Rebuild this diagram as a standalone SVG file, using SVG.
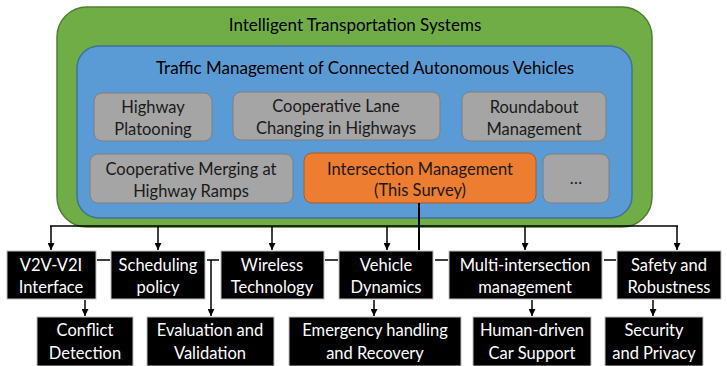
<svg xmlns="http://www.w3.org/2000/svg" width="727" height="366" viewBox="0 0 727 366">
  <defs>
    <marker id="arr" viewBox="0 0 10 10" refX="10" refY="5" markerWidth="7" markerHeight="7" markerUnits="userSpaceOnUse" orient="auto">
      <path d="M0,0 L10,5 L0,10 z" fill="#000"/>
    </marker>
  </defs>
  <style>
    text { font-family: Lato, "Open Sans", "Liberation Sans", sans-serif; text-anchor: middle; dominant-baseline: central; }
    .hdr { font-size: 17px; fill: #000; }
    .lbl { font-size: 16.5px; fill: #1a1a1a; }
    .wt { font-size: 16.5px; fill: #fff; }
    .gray { fill: #a5a5a5; stroke: #7f7f7f; stroke-width: 1; }
    .blk { fill: #000; stroke: #bfbfbf; stroke-width: 1; }
    .ln { fill: none; stroke: #000; stroke-width: 2; }
    .ar { fill: none; stroke: #000; stroke-width: 1.5; marker-end: url(#arr); }
  </style>

  <!-- outer domain -->
  <g id="its">
    <rect x="57" y="7" width="595" height="220" rx="30" fill="#70ad47" stroke="#507e32" stroke-width="1.5"/>
    <text class="hdr" x="355" y="24">Intelligent Transportation Systems</text>
  </g>
  <g id="cav">
    <rect x="77" y="46" width="555" height="172" rx="22" fill="#5b9bd5" stroke="#41719c" stroke-width="1.5"/>
    <text class="hdr" x="365" y="67">Traffic Management of Connected Autonomous Vehicles</text>
  </g>

  <g id="platooning">
    <rect class="gray" x="94" y="93" width="118" height="48" rx="8"/>
    <text class="lbl" x="153" y="107">Highway</text>
    <text class="lbl" x="153" y="129">Platooning</text>
  </g>
  <g id="lanechange">
    <rect class="gray" x="233" y="92" width="207" height="48" rx="8"/>
    <text class="lbl" x="336" y="106">Cooperative Lane</text>
    <text class="lbl" x="336" y="128">Changing in Highways</text>
  </g>
  <g id="roundabout">
    <rect class="gray" x="462" y="92" width="144" height="49" rx="8"/>
    <text class="lbl" x="534" y="107">Roundabout</text>
    <text class="lbl" x="534" y="129">Management</text>
  </g>
  <g id="merging">
    <rect class="gray" x="90" y="154" width="203" height="49" rx="8"/>
    <text class="lbl" x="191" y="169">Cooperative Merging at</text>
    <text class="lbl" x="191" y="191">Highway Ramps</text>
  </g>
  <g id="intersection">
    <rect x="304" y="153" width="232" height="50" rx="8" fill="#ed7d31" stroke="#ae5a21" stroke-width="1"/>
    <text class="lbl" x="420" y="169">Intersection Management</text>
    <text class="lbl" x="420" y="190">(This Survey)</text>
  </g>
  <g id="more">
    <rect class="gray" x="543" y="154" width="66" height="49" rx="8"/>
    <text class="lbl" x="576" y="178">…</text>
  </g>

  <!-- connectors -->
  <g id="connectors">
    <path class="ln" d="M419,203 V250"/>
    <path class="ln" d="M50,226 H678" style="stroke-width:1.5"/>
    <path class="ar" d="M51,226 V250"/>
    <path class="ar" d="M158,226 V250"/>
    <path class="ar" d="M272,226 V250"/>
    <path class="ar" d="M387,226 V250"/>
    <path class="ar" d="M525,226 V250"/>
    <path class="ar" d="M677,226 V250"/>
    <path class="ln" d="M97,260 H110 M207,260 H219 M325,260 H338 M435,260 H448 M604,260 H616" style="stroke-width:1.5"/>
    <path class="ar" d="M211,260 V316"/>
    <path class="ar" d="M85,300 V316"/>
    <path class="ar" d="M374,300 V316"/>
    <path class="ar" d="M532,300 V316"/>
    <path class="ar" d="M653,300 V316"/>
  </g>

  <!-- topic boxes -->
  <g id="v2v">
    <rect class="blk" x="7" y="251" width="89" height="48"/>
    <text class="wt" x="51" y="265">V2V-V2I</text>
    <text class="wt" x="51" y="287">Interface</text>
  </g>
  <g id="scheduling">
    <rect class="blk" x="111" y="251" width="94" height="48"/>
    <text class="wt" x="158" y="265">Scheduling</text>
    <text class="wt" x="158" y="287">policy</text>
  </g>
  <g id="wireless">
    <rect class="blk" x="221" y="251" width="103" height="48"/>
    <text class="wt" x="272" y="265">Wireless</text>
    <text class="wt" x="272" y="287">Technology</text>
  </g>
  <g id="dynamics">
    <rect class="blk" x="339" y="251" width="94" height="48"/>
    <text class="wt" x="386" y="265">Vehicle</text>
    <text class="wt" x="386" y="287">Dynamics</text>
  </g>
  <g id="multi">
    <rect class="blk" x="449" y="251" width="153" height="48"/>
    <text class="wt" x="525" y="265">Multi-intersection</text>
    <text class="wt" x="525" y="287">management</text>
  </g>
  <g id="safety">
    <rect class="blk" x="617" y="251" width="104" height="48"/>
    <text class="wt" x="669" y="265">Safety and</text>
    <text class="wt" x="669" y="287">Robustness</text>
  </g>

  <g id="conflict">
    <rect class="blk" x="37" y="317" width="96" height="49"/>
    <text class="wt" x="85" y="330">Conflict</text>
    <text class="wt" x="85" y="353">Detection</text>
  </g>
  <g id="evaluation">
    <rect class="blk" x="147" y="317" width="127" height="49"/>
    <text class="wt" x="210" y="330">Evaluation and</text>
    <text class="wt" x="210" y="353">Validation</text>
  </g>
  <g id="emergency">
    <rect class="blk" x="289" y="317" width="172" height="49"/>
    <text class="wt" x="375" y="330">Emergency handling</text>
    <text class="wt" x="375" y="353">and Recovery</text>
  </g>
  <g id="human">
    <rect class="blk" x="473" y="317" width="118" height="49"/>
    <text class="wt" x="532" y="330">Human-driven</text>
    <text class="wt" x="532" y="353">Car Support</text>
  </g>
  <g id="security">
    <rect class="blk" x="605" y="317" width="98" height="49"/>
    <text class="wt" x="654" y="330">Security</text>
    <text class="wt" x="654" y="353">and Privacy</text>
  </g>
</svg>
